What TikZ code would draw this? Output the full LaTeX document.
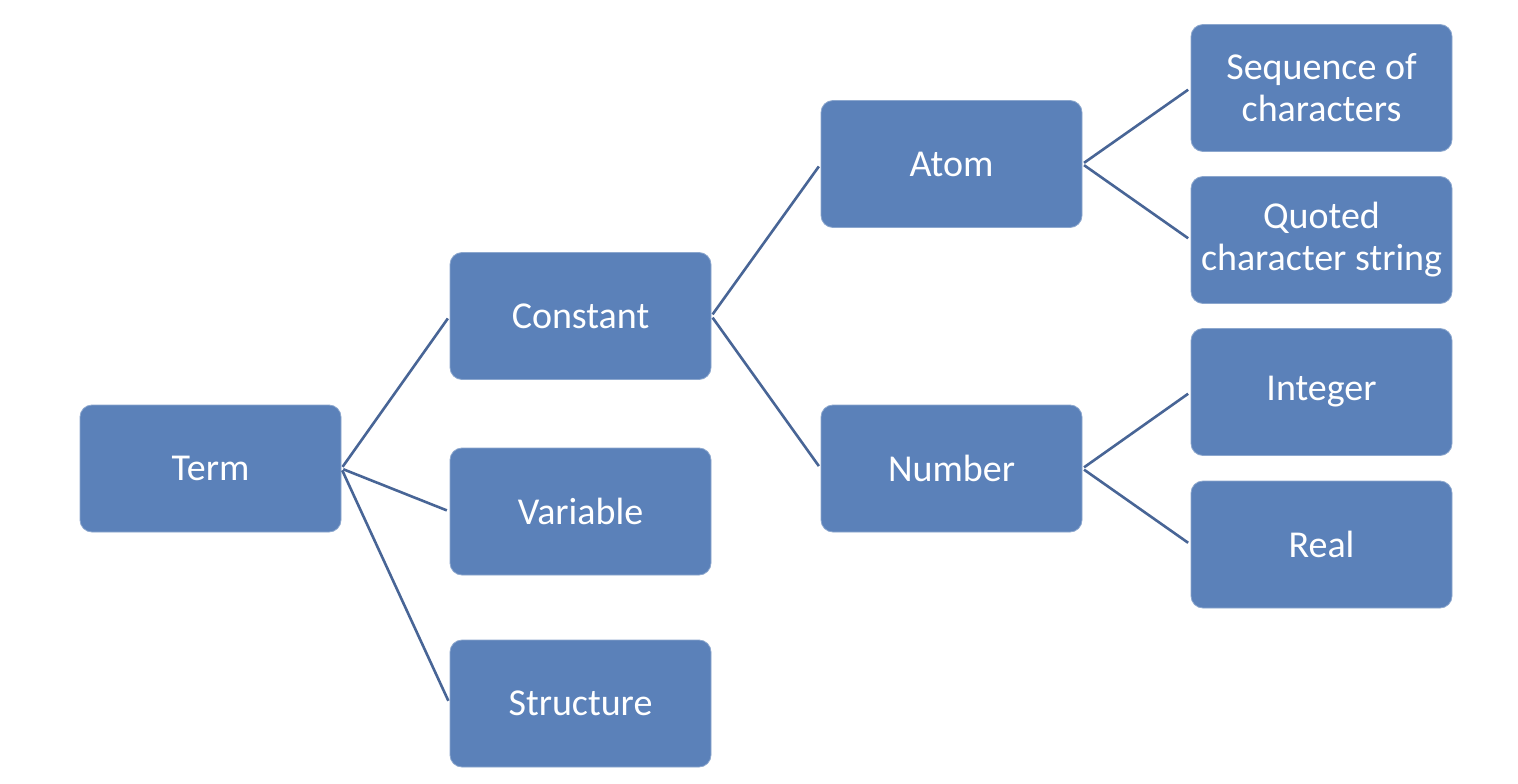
\documentclass[tikz,border=0pt]{standalone}
\usepackage{fontspec}
\setmainfont{Carlito}
\definecolor{boxblue}{RGB}{91,129,185}
\definecolor{lineblue}{RGB}{72,101,150}
\begin{document}
\begin{tikzpicture}[x=1pt,y=-1pt,
  box/.style={draw=boxblue!70!white, line width=0.8pt, fill=boxblue, rounded corners=12pt,
    minimum width=261pt, minimum height=127pt, inner sep=0pt,
    text=white, align=center, font=\fontsize{38}{42}\selectfont},
  link/.style={draw=lineblue, line width=2.6pt, shorten <=2pt, shorten >=3pt}]
\useasboundingbox (0,0) rectangle (1518,784);
\fill[white] (0,0) rectangle (1518,784);
\node[box] (term) at (210.5,468.5) {Term};
\node[box] (constant) at (580.5,316) {Constant};
\node[box] (variable) at (580.5,511.5) {Variable};
\node[box] (structure) at (580.5,703.5) {Structure};
\node[box] (atom) at (951.5,164) {Atom};
\node[box] (number) at (951.5,468.5) {Number};
\node[box] (seq) at (1321.5,88) {Sequence of\\characters};
\node[box] (quoted) at (1321.5,240) {Quoted\\character string};
\node[box] (integer) at (1321.5,392) {Integer};
\node[box] (real) at (1321.5,544.5) {Real};
\draw[link] (term.east) -- (constant.west);
\draw[link] (term.east) -- (variable.west);
\draw[link] (term.east) -- (structure.west);
\draw[link] (constant.east) -- (atom.west);
\draw[link] (constant.east) -- (number.west);
\draw[link] (atom.east) -- (seq.west);
\draw[link] (atom.east) -- (quoted.west);
\draw[link] (number.east) -- (integer.west);
\draw[link] (number.east) -- (real.west);
\end{tikzpicture}
\end{document}
